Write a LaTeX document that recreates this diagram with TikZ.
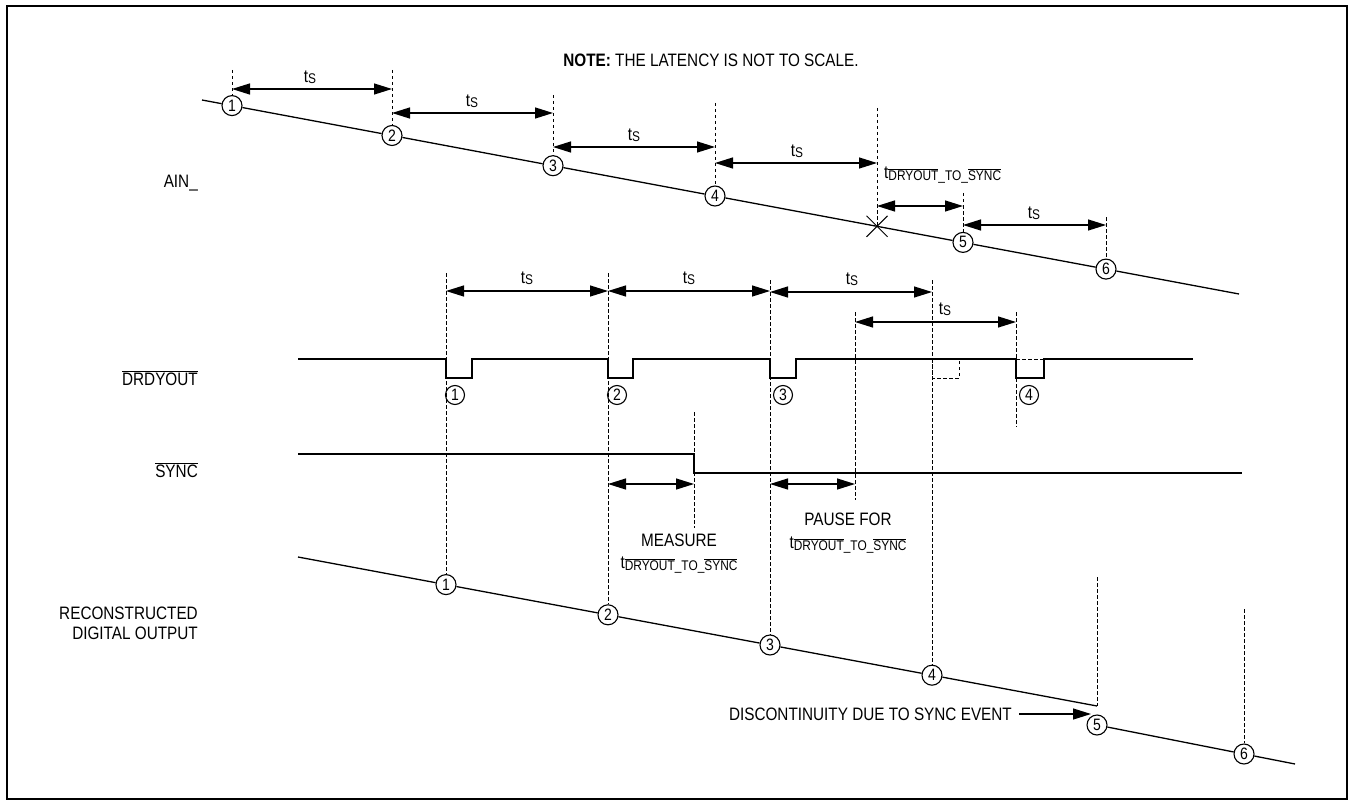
\documentclass[tikz,border=0pt]{standalone}
\usepackage{fontspec}
\setmainfont{Liberation Sans}[FakeStretch=0.85]
\usetikzlibrary{arrows.meta,shapes.misc}
\newcommand{\ovl}[1]{$\overline{\mbox{#1}}$}
\newcommand{\tS}{t\raisebox{-1pt}{\fontsize{14}{14}\selectfont S}}
\newcommand{\tDS}{t\raisebox{-1.5pt}{\fontsize{14}{14}\selectfont\ovl{DRYOUT}\_TO\_\ovl{SYNC}}}
\begin{document}
\begin{tikzpicture}[x=1pt,y=-1pt,
  every node/.style={font=\fontsize{18}{20}\selectfont, inner sep=1pt},
  sig/.style={line width=1.3pt},
  oldsig/.style={line width=1pt, dash pattern=on 3.5pt off 2.5pt},
  guide/.style={line width=0.9pt, dash pattern=on 3.5pt off 2.5pt},
  dim/.style={line width=1.3pt, {Triangle[length=18pt,width=11pt]}-{Triangle[length=18pt,width=11pt]}},
  circ/.style={circle, draw, line width=1.1pt, fill=white, minimum size=20pt, inner sep=0pt, font=\fontsize{16.5}{16.5}\selectfont},
  scirc/.style={circ, minimum size=19pt},
  lbl/.style={anchor=east, align=right}]
\useasboundingbox (0,0) rectangle (1351,805);
\draw[line width=2pt] (7,6) rectangle (1347,799);

% note
\node (note) at (711,60) {\textbf{NOTE:} THE LATENCY IS NOT TO SCALE.};

% left labels
\node[lbl] (lain) at (199,183) {AIN\_};
\node[lbl] (ldr) at (199,378) {\ovl{DRDYOUT}};
\node[lbl] (lsy) at (199,470) {\ovl{SYNC}};
\node[lbl] (lrec) at (199,623) {RECONSTRUCTED\\DIGITAL OUTPUT};

% ---------------- AIN ----------------
\coordinate (ainS) at (202,100);
\coordinate (ainE) at (1239,294);
\node[circ] (a1) at (232,105.6) {1};
\node[circ] (a2) at (392,135.5) {2};
\node[circ] (a3) at (553,165.7) {3};
\node[circ] (a4) at (715,196.0) {4};
\node[circ] (a5) at (963,242.4) {5};
\node[circ] (a6) at (1106,269.1) {6};
\node[cross out, draw, line width=1pt, minimum size=20pt, inner sep=0pt] (ax) at (877,226.3) {};
\draw[sig] (ainS) -- (a1) -- (a2) -- (a3) -- (a4) -- (a5) -- (a6) -- (ainE);

\coordinate (g1) at (232,70);  \draw[guide] (g1) -- (a1);
\coordinate (g2) at (392,70);  \draw[guide] (g2) -- (a2);
\coordinate (g3) at (553,95);  \draw[guide] (g3) -- (a3);
\coordinate (g4) at (715,103); \draw[guide] (g4) -- (a4);
\coordinate (g5) at (877,108); \draw[guide] (g5) -- (ax.center);
\coordinate (g6) at (963,193); \draw[guide] (g6) -- (a5);
\coordinate (g7) at (1106,217); \draw[guide] (g7) -- (a6);

\coordinate (A1l) at (232,89);  \coordinate (A1r) at (392,89);
\coordinate (A2l) at (392,113); \coordinate (A2r) at (553,113);
\coordinate (A3l) at (553,147); \coordinate (A3r) at (715,147);
\coordinate (A4l) at (715,163); \coordinate (A4r) at (877,163);
\coordinate (A5l) at (877,206); \coordinate (A5r) at (963,206);
\coordinate (A6l) at (963,225); \coordinate (A6r) at (1106,225);
\draw[dim] (A1l) -- (A1r);
\draw[dim] (A2l) -- (A2r);
\draw[dim] (A3l) -- (A3r);
\draw[dim] (A4l) -- (A4r);
\draw[dim] (A5l) -- (A5r);
\draw[dim] (A6l) -- (A6r);
\node (t1) at (310,77) {\tS};
\node (t2) at (472,101) {\tS};
\node (t3) at (634,135) {\tS};
\node (t4) at (797,151) {\tS};
\node[anchor=west] (t5) at (883,175) {\tDS};
\node (t6) at (1034,213) {\tS};

% ---------------- DRDYOUT ----------------
\draw[sig] (298,359) -- (446,359) -- (446,378) -- (472,378) -- (472,359)
  -- (608,359) -- (608,378) -- (633,378) -- (633,359)
  -- (770,359) -- (770,378) -- (796,378) -- (796,359) -- (1016,359)
  -- (1016,378) -- (1044,378) -- (1044,359) -- (1193,359);
\draw[oldsig] (932,359) -- (932,378) -- (959,378) -- (959,359);
\draw[oldsig] (1016,359) -- (1044,359);
\node[scirc] (d1) at (455,395) {1};
\node[scirc] (d2) at (617,395) {2};
\node[scirc] (d3) at (783,395) {3};
\node[scirc] (d4) at (1029,395) {4};

% ---------------- SYNC ----------------
\draw[sig] (298,454) -- (694,454) -- (694,473) -- (1242,473);

% ---------------- RECONSTRUCTED ----------------
\coordinate (rS) at (298,557);
\node[circ] (r1) at (446,584.6) {1};
\node[circ] (r2) at (608,614.8) {2};
\node[circ] (r3) at (770,645.0) {3};
\node[circ] (r4) at (932,675.2) {4};
\coordinate (rE) at (1097,706);
\node[circ] (r5) at (1097,725) {5};
\node[circ] (r6) at (1244,754) {6};
\coordinate (rF) at (1295,764);
\draw[sig] (rS) -- (r1) -- (r2) -- (r3) -- (r4) -- (rE);
\draw[sig] (r5) -- (r6) -- (rF);

% guides middle/bottom
\coordinate (e1) at (446,273); \draw[guide] (e1) -- (r1);
\coordinate (e2) at (608,273); \draw[guide] (e2) -- (r2);
\coordinate (e3) at (770,280); \draw[guide] (e3) -- (r3);
\coordinate (e4t) at (855,312); \coordinate (e4b) at (855,500); \draw[guide] (e4t) -- (e4b);
\coordinate (e5) at (932,280); \draw[guide] (e5) -- (r4);
\coordinate (e6t) at (1016,312); \coordinate (e6b) at (1016,427); \draw[guide] (e6t) -- (e6b);
\coordinate (e7t) at (694,412); \coordinate (e7b) at (694,528); \draw[guide] (e7t) -- (e7b);
\coordinate (e8) at (1097,577); \draw[guide] (e8) -- (rE);
\coordinate (e9) at (1244,609); \draw[guide] (e9) -- (r6);

% dimension arrows middle
\coordinate (B1l) at (446,291); \coordinate (B1r) at (608,291);
\coordinate (B2l) at (608,291); \coordinate (B2r) at (770,291);
\coordinate (B3l) at (770,292); \coordinate (B3r) at (932,292);
\coordinate (B4l) at (855,322); \coordinate (B4r) at (1016,322);
\coordinate (Ml) at (608,484);  \coordinate (Mr) at (694,484);
\coordinate (Pl) at (770,484);  \coordinate (Pr) at (855,484);
\draw[dim] (B1l) -- (B1r);
\draw[dim] (B2l) -- (B2r);
\draw[dim] (B3l) -- (B3r);
\draw[dim] (B4l) -- (B4r);
\draw[dim] (Ml) -- (Mr);
\draw[dim] (Pl) -- (Pr);
\node (u1) at (527,278) {\tS};
\node (u2) at (689,278) {\tS};
\node (u3) at (852,279) {\tS};
\node (u4) at (945,309) {\tS};
\node (meas) at (679,540) {MEASURE};
\node (meast) at (679,565) {\tDS};
\node (pause) at (848,519) {PAUSE FOR};
\node (pauset) at (848,545) {\tDS};

% discontinuity
\node[anchor=east] (disc) at (1013,714) {DISCONTINUITY DUE TO SYNC EVENT};
\coordinate (discTip) at (1091,714);
\draw[line width=1.3pt, -{Triangle[length=18pt,width=11pt]}] ([xshift=6pt]disc.east) -- (discTip);
\end{tikzpicture}
\end{document}
